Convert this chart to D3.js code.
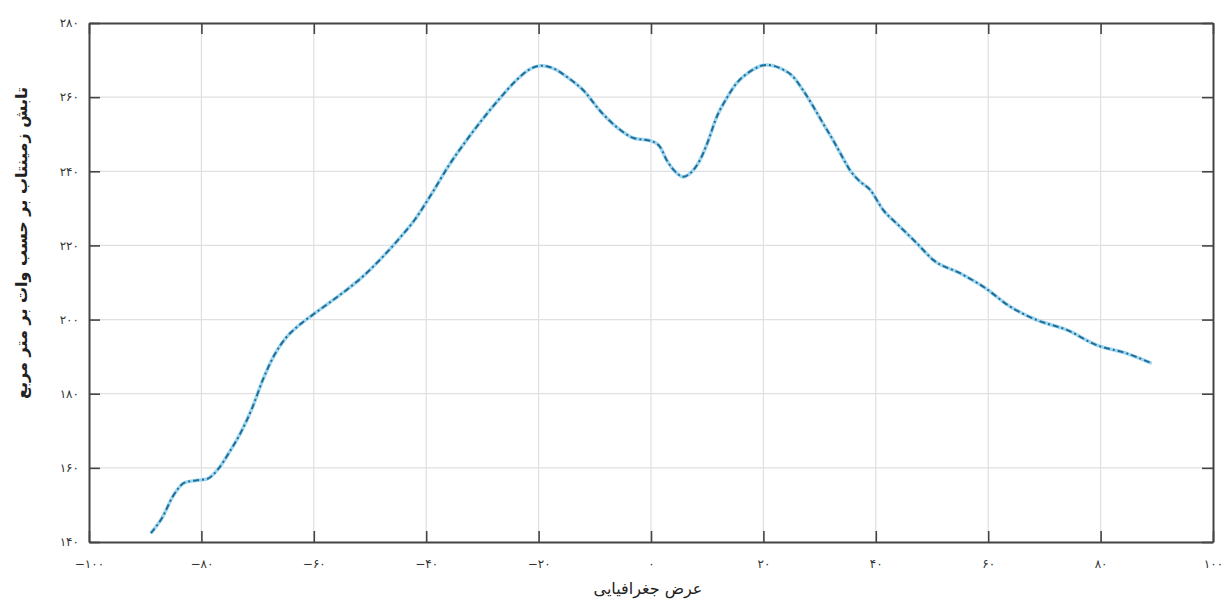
<!DOCTYPE html>
<html>
<head>
<meta charset="utf-8">
<script src="https://cdn.jsdelivr.net/npm/d3@7"></script>
<style>
  body { margin: 0; background: #fff; }
  text { font-family: "DejaVu Sans", sans-serif; }
</style>
</head>
<body>
<svg></svg>
<script>
// latitude (deg) and outgoing longwave radiation (W/m2)
var lat = [-89, -87, -85, -83, -81, -79, -77, -75, -73, -71, -69, -67, -65, -63, -60, -57, -54, -51, -48, -45,
  -42, -39, -36, -33, -30, -27, -24, -21.5, -19.5, -17, -15, -12, -9, -6, -3, 0, 1.6, 2.8, 4.6, 5.7,
  7, 8.7, 10, 11.7, 13.5, 15.2, 17.5, 20.6, 23, 25.3, 27, 28.9, 30.7, 32.4, 34, 35.4, 37, 39, 41.3, 44,
  47.3, 50.2, 55, 59.1, 63.9, 68.6, 74, 79.3, 84.6, 89.1];
var olr = [142.4, 146.5, 152.5, 156, 156.6, 157, 159.7, 164.3, 169.5, 176, 184, 190.5, 195, 198, 201.5, 204.8, 208.2, 212, 216.5, 221.5,
  227, 234, 241.5, 248, 254, 259.5, 264.5, 267.6, 268.5, 267.5, 265.5, 261.8, 256.2, 251.8, 248.9, 248.2, 246.6, 243, 239.5, 238.5,
  239.5, 243, 247.5, 254.7, 259.8, 263.7, 266.8, 268.7, 267.8, 265.5, 262, 257.4, 252.7, 248.4, 244, 240.3, 237.5, 235, 229.6, 225.5,
  220.6, 216.1, 212.5, 208.9, 203.5, 199.9, 197.2, 193.1, 190.9, 188.2];

var xTicks = [-100, -80, -60, -40, -20, 0, 20, 40, 60, 80, 100];
var yTicks = [140, 160, 180, 200, 220, 240, 260, 280];
var xTitle = "عرض جغرافیایی";
var yTitle = "تابش زمینتاب بر حسب وات بر متر مربع";

var width = 1225, height = 602;
var margin = {top: 23, right: 12, bottom: 60, left: 89};

var svg = d3.select("svg").attr("width", width).attr("height", height);

var x = d3.scaleLinear().domain([-100, 100]).range([margin.left, width - margin.right]);
var y = d3.scaleLinear().domain([140, 280]).range([height - margin.bottom, margin.top]);

// persian digits for the tick labels
function fa(v) {
  var s = String(Math.abs(v)).replace(/[0-9]/g, function (d) { return "۰۱۲۳۴۵۶۷۸۹"[+d]; });
  return (v < 0 ? "\u2212" : "") + s;
}

// grid
svg.append("g")
  .selectAll("line.gx")
  .data(xTicks.slice(1, -1))
  .enter().append("line")
  .attr("x1", d => x(d)).attr("x2", d => x(d))
  .attr("y1", y(140)).attr("y2", y(280))
  .style("stroke", "#e0e0e0").style("stroke-width", 1.2);
svg.append("g")
  .selectAll("line.gy")
  .data(yTicks.slice(1, -1))
  .enter().append("line")
  .attr("x1", x(-100)).attr("x2", x(100))
  .attr("y1", d => y(d)).attr("y2", d => y(d))
  .style("stroke", "#e0e0e0").style("stroke-width", 1.2);

// axes, ticks pointing inwards on all four sides
var tl = 11;
svg.append("g")
  .attr("transform", "translate(0," + y(140) + ")")
  .call(d3.axisBottom(x).tickValues(xTicks).tickFormat(fa).tickSizeInner(-tl).tickSizeOuter(0).tickPadding(17));
svg.append("g")
  .attr("transform", "translate(0," + y(280) + ")")
  .call(d3.axisTop(x).tickValues(xTicks).tickFormat("").tickSizeInner(-tl).tickSizeOuter(0));
svg.append("g")
  .attr("transform", "translate(" + x(-100) + ",0)")
  .call(d3.axisLeft(y).tickValues(yTicks).tickFormat(fa).tickSizeInner(-tl).tickSizeOuter(0).tickPadding(10));
svg.append("g")
  .attr("transform", "translate(" + x(100) + ",0)")
  .call(d3.axisRight(y).tickValues(yTicks).tickFormat("").tickSizeInner(-tl).tickSizeOuter(0));

svg.selectAll(".domain").style("stroke", "#444").style("stroke-width", 2);
svg.selectAll(".tick line").style("stroke", "#444").style("stroke-width", 1.6);
svg.selectAll(".tick text").style("font-size", "12px").style("fill", "#333");

// the curve: light halo under a dash-dot line
var line = d3.line()
  .x((d, i) => x(lat[i]))
  .y(d => y(d))
  .curve(d3.curveMonotoneX);

svg.append("path")
  .datum(olr)
  .attr("d", line)
  .style("fill", "none")
  .style("stroke", "#9fd6ee")
  .style("stroke-width", 3.5);
svg.append("path")
  .datum(olr)
  .attr("d", line)
  .style("fill", "none")
  .style("stroke", "#1e6d9a")
  .style("stroke-width", 2)
  .style("stroke-dasharray", "6,3,2,3");

// titles
svg.append("text")
  .attr("x", x(0) - 3)
  .attr("y", 594)
  .attr("text-anchor", "middle")
  .attr("direction", "rtl")
  .style("font-size", "16px")
  .style("fill", "#222")
  .text(xTitle);

svg.append("text")
  .attr("transform", "translate(27,243) rotate(-90)")
  .attr("text-anchor", "middle")
  .attr("direction", "rtl")
  .style("font-size", "16px")
  .style("font-weight", "bold")
  .style("fill", "#222")
  .text(yTitle);
</script>
</body>
</html>
